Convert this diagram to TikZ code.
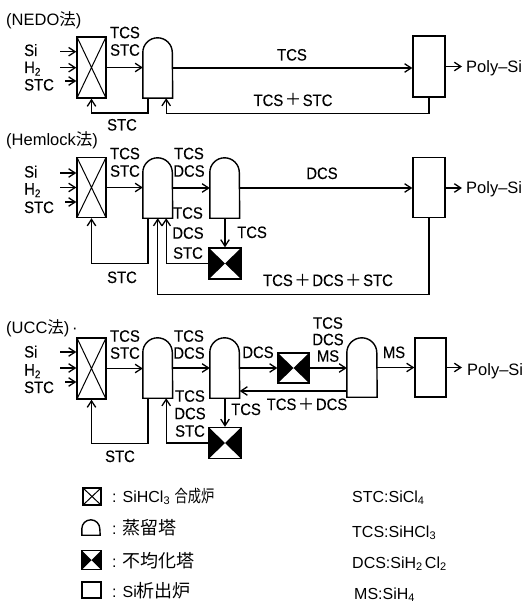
\documentclass[tikz,border=0pt]{standalone}
\usepackage{fontspec}
\usepackage{graphicx}
\setmainfont{Liberation Sans}
\newfontfamily\lab[FakeStretch=0.9,FakeBold=0.2]{Liberation Sans}
\newfontfamily\cjk{Noto Sans CJK JP}
\usetikzlibrary{arrows.meta}
\newcommand\dn[1]{\raisebox{-0.3ex}{\fontsize{11}{11}\selectfont #1}}
\newcommand\pls{\kern1.5pt{\cjk ＋}\kern1.5pt}
\newcommand\domeshape[2]{\draw[ln] (#1.south west) -- ([yshift=-#2]#1.north west) arc[start angle=180,end angle=0,radius=#2] -- (#1.south east) -- cycle;}
\begin{document}
\begin{tikzpicture}[x=1pt,y=-1pt,
 ln/.style={line width=1.4pt},
 arr/.style={ln,-{Straight Barb[length=6.5pt,width=8.5pt,line width=1.3pt]}},
 lbl/.style={font=\lab\fontsize{16.5}{17.5}\selectfont, inner sep=0pt, align=center},
 ttl/.style={font=\fontsize{16.5}{18}\selectfont, inner sep=0pt, anchor=base west},
 leg/.style={font=\fontsize{16}{18}\selectfont, inner sep=0pt, anchor=base west},
 reactor/.style={draw, ln, inner sep=0pt, minimum width=29pt, minimum height=61pt,
   path picture={\draw[line width=1pt] (path picture bounding box.south west) -- (path picture bounding box.north east) (path picture bounding box.north west) -- (path picture bounding box.south east);}},
 column/.style={inner sep=0pt, minimum width=29.5pt, minimum height=60pt},
 dispro/.style={draw, ln, inner sep=0pt, minimum width=32pt, minimum height=31pt,
   path picture={\fill (path picture bounding box.south west) -- (path picture bounding box.center) -- (path picture bounding box.north west) -- cycle (path picture bounding box.south east) -- (path picture bounding box.center) -- (path picture bounding box.north east) -- cycle;}},
 depo/.style={draw, ln, inner sep=0pt, minimum width=32pt, minimum height=61pt},
 poly/.style={font=\fontsize{16.5}{18}\selectfont, inner sep=0pt, anchor=base west},
]
\useasboundingbox (0,0) rectangle (523,604);

% ---------------- NEDO ----------------
\node[ttl] (t1) at (6,26) {(NEDO{\cjk 法})};
\node[reactor] (r1) at (91.5,67.5) {};
\node[column] (c1) at (157.75,68) {};
\domeshape{c1}{14.75pt}
\node[depo] (d1) at (429,66.5) {};
\node[lbl,anchor=base west] (i1a) at (24,56) {Si};
\node[lbl,anchor=base west] (i1b) at (24,73) {H\dn2};
\node[lbl,anchor=base west] (i1c) at (24,90.5) {STC};
\coordinate (a1a) at (60,51.7);
\coordinate (a1b) at (60,67.7);
\coordinate (a1c) at (65,81);
\draw[arr] (a1a) -- (a1a -| r1.west);
\draw[arr] (a1b) -- (a1b -| r1.west);
\draw[arr] (a1c) -- (a1c -| r1.west);
\node[lbl,anchor=north] (l1a) at (125,26.5) {TCS\\STC};
\draw[arr] (r1.east) -- (r1.east -| c1.west);
\draw[arr] (c1.east) -- (c1.east -| d1.west);
\node[lbl,anchor=base] (l1b) at (292,60.5) {TCS};
\coordinate (o1) at (462,66.5);
\draw[arr] (d1.east) -- (o1);
\node[poly] (p1) at (466,72.5) {Poly–Si};
\draw[arr] ([xshift=5pt]c1.south west) -- ++(0,15) -| (r1.south);
\node[lbl,anchor=base] (l1c) at (122,130.5) {STC};
\draw[arr] (d1.south) -- ++(0,16) -| ([xshift=-6.5pt]c1.south east);
\node[lbl,anchor=base] (l1d) at (293,106) {TCS\pls STC};

% ---------------- Hemlock ----------------
\node[ttl] (t2) at (6,146) {(Hemlock{\cjk 法})};
\node[reactor,minimum height=60pt] (r2) at (91.5,187.5) {};
\node[column] (c2a) at (157.75,188) {};
\domeshape{c2a}{14.75pt}
\node[column] (c2b) at (224.75,188) {};
\domeshape{c2b}{14.75pt}
\node[depo,minimum height=60pt] (d2) at (429,187.5) {};
\node[dispro] (x2) at (225,263.5) {};
\node[lbl,anchor=base west] (i2a) at (24,177.5) {Si};
\node[lbl,anchor=base west] (i2b) at (24,194.5) {H\dn2};
\node[lbl,anchor=base west] (i2c) at (24,213) {STC};
\coordinate (a2a) at (60,173);
\coordinate (a2b) at (60,187.5);
\coordinate (a2c) at (65,202);
\draw[arr] (a2a) -- (a2a -| r2.west);
\draw[arr] (a2b) -- (a2b -| r2.west);
\draw[arr] (a2c) -- (a2c -| r2.west);
\node[lbl,anchor=north] (l2a) at (125,147.5) {TCS\\STC};
\node[lbl,anchor=north] (l2b) at (189,147.5) {TCS\\DCS};
\draw[arr] (r2.east) -- (r2.east -| c2a.west);
\draw[arr] (c2a.east) -- (c2b.west);
\draw[arr] (c2b.east) -- (c2b.east -| d2.west);
\node[lbl,anchor=base] (l2c) at (322,179) {DCS};
\coordinate (o2) at (462,188);
\draw[arr] (d2.east |- o2) -- (o2);
\node[poly] (p2) at (466,193) {Poly–Si};
\draw[arr] (x2.north |- c2b.south) -- (x2.north);
\node[lbl,anchor=base west] (l2d) at (237,238) {TCS};
\draw[arr] (x2.west) -| ([xshift=-6.5pt]c2a.south east);
\node[lbl,anchor=north,font=\lab\fontsize{16.5}{20}\selectfont] (l2e) at (188,207) {TCS\\DCS\\STC};
\draw[arr] ([xshift=5pt]c2a.south west) -- ++(0,45) -| (r2.south);
\node[lbl,anchor=base] (l2f) at (122,283) {STC};
\draw[arr] (d2.south) -- ++(0,76) -| (c2a.south);
\node[lbl,anchor=base] (l2g) at (328,286) {TCS\pls DCS\pls STC};

% ---------------- UCC ----------------
\node[ttl] (t3) at (6,333) {(UCC{\cjk 法})\,·};
\node[reactor] (r3) at (91.5,368.5) {};
\node[column] (c3a) at (157.75,368) {};
\domeshape{c3a}{14.75pt}
\node[column] (c3b) at (224.75,368) {};
\domeshape{c3b}{14.75pt}
\node[dispro,minimum width=31pt,minimum height=30pt] (x3a) at (293.5,368) {};
\node[column,minimum width=30pt,minimum height=59pt] (c3c) at (362,367.5) {};
\domeshape{c3c}{15pt}
\node[depo,minimum width=31pt,minimum height=59pt] (d3) at (430.5,367.5) {};
\node[dispro] (x3b) at (225,443) {};
\node[lbl,anchor=base west] (i3a) at (24,357.5) {Si};
\node[lbl,anchor=base west] (i3b) at (24,375.5) {H\dn2};
\node[lbl,anchor=base west] (i3c) at (24,393) {STC};
\coordinate (a3a) at (60,352);
\coordinate (a3b) at (60,368);
\coordinate (a3c) at (65,382);
\draw[arr] (a3a) -- (a3a -| r3.west);
\draw[arr] (a3b) -- (a3b -| r3.west);
\draw[arr] (a3c) -- (a3c -| r3.west);
\node[lbl,anchor=north,font=\lab\fontsize{16.5}{17}\selectfont] (l3a) at (125,330) {TCS\\STC};
\node[lbl,anchor=north,font=\lab\fontsize{16.5}{17}\selectfont] (l3b) at (189,330) {TCS\\DCS};
\draw[arr] (r3.east) -- (r3.east -| c3a.west);
\draw[arr] (c3a.east) -- (c3b.west);
\draw[arr] (c3b.east) -- (x3a.west);
\node[lbl,anchor=base] (l3c) at (258,358) {DCS};
\draw[arr] (x3a.east) -- (x3a.east -| c3c.west);
\node[lbl,anchor=north,font=\lab\fontsize{16.5}{16.5}\selectfont] (l3d) at (328,317) {TCS\\DCS\\MS};
\draw[arr] (c3c.east) -- (d3.west);
\node[lbl,anchor=base] (l3e) at (394,358) {MS};
\coordinate (o3) at (462,367.5);
\draw[arr] (d3.east) -- (o3);
\node[poly] (p3) at (467,375.5) {Poly–Si};
\draw[arr] ([yshift=-23.5pt]c3c.west) -- ([yshift=-23.5pt]c3c.west -| c3b.east);
\node[lbl,anchor=base] (l3f) at (307,410) {TCS\pls DCS};
\draw[arr] (x3b.north |- c3b.south) -- (x3b.north);
\node[lbl,anchor=base west] (l3g) at (231,415) {TCS};
\draw[arr] (x3b.west) -| ([xshift=-6.5pt]c3a.south east);
\node[lbl,anchor=north,font=\lab\fontsize{16.5}{17.5}\selectfont] (l3h) at (190,390) {TCS\\DCS\\STC};
\draw[arr] ([xshift=5pt]c3a.south west) -- ++(0,45) -| (r3.south);
\node[lbl,anchor=base] (l3i) at (120,462) {STC};

% ---------------- Legend ----------------
\node[reactor,minimum width=18pt,minimum height=17pt] (k1) at (92,496.5) {};
\node[column,minimum width=18pt,minimum height=15pt] (k2) at (91,527.5) {};
\domeshape{k2}{9pt}
\node[dispro,minimum width=19pt,minimum height=19pt] (k3) at (91.5,560) {};
\node[depo,minimum width=19pt,minimum height=16pt] (k4) at (91.5,590) {};
\node[leg] (k1t) at (112,502) {:\hspace{6pt}SiHCl\dn3\hspace{5pt}{\cjk\fontsize{17}{18}\selectfont\scalebox{0.78}[1]{合成炉}}};
\node[leg] (k2t) at (112,534) {:\hspace{6pt}{\cjk\fontsize{18}{18}\selectfont 蒸留塔}};
\node[leg] (k3t) at (112,567) {:\hspace{6pt}{\cjk\fontsize{18}{18}\selectfont 不均化塔}};
\node[leg] (k4t) at (112,597) {:\hspace{6pt}Si{\cjk\fontsize{18}{18}\selectfont 析出炉}};
\node[leg] (k5) at (352,502) {STC:SiCl\dn4};
\node[leg] (k6) at (352,537) {TCS:SiHCl\dn3};
\node[leg] (k7) at (352,568) {DCS:SiH\dn2\,Cl\dn2};
\node[leg] (k8) at (354,599) {MS:SiH\dn4};
\end{tikzpicture}
\end{document}
